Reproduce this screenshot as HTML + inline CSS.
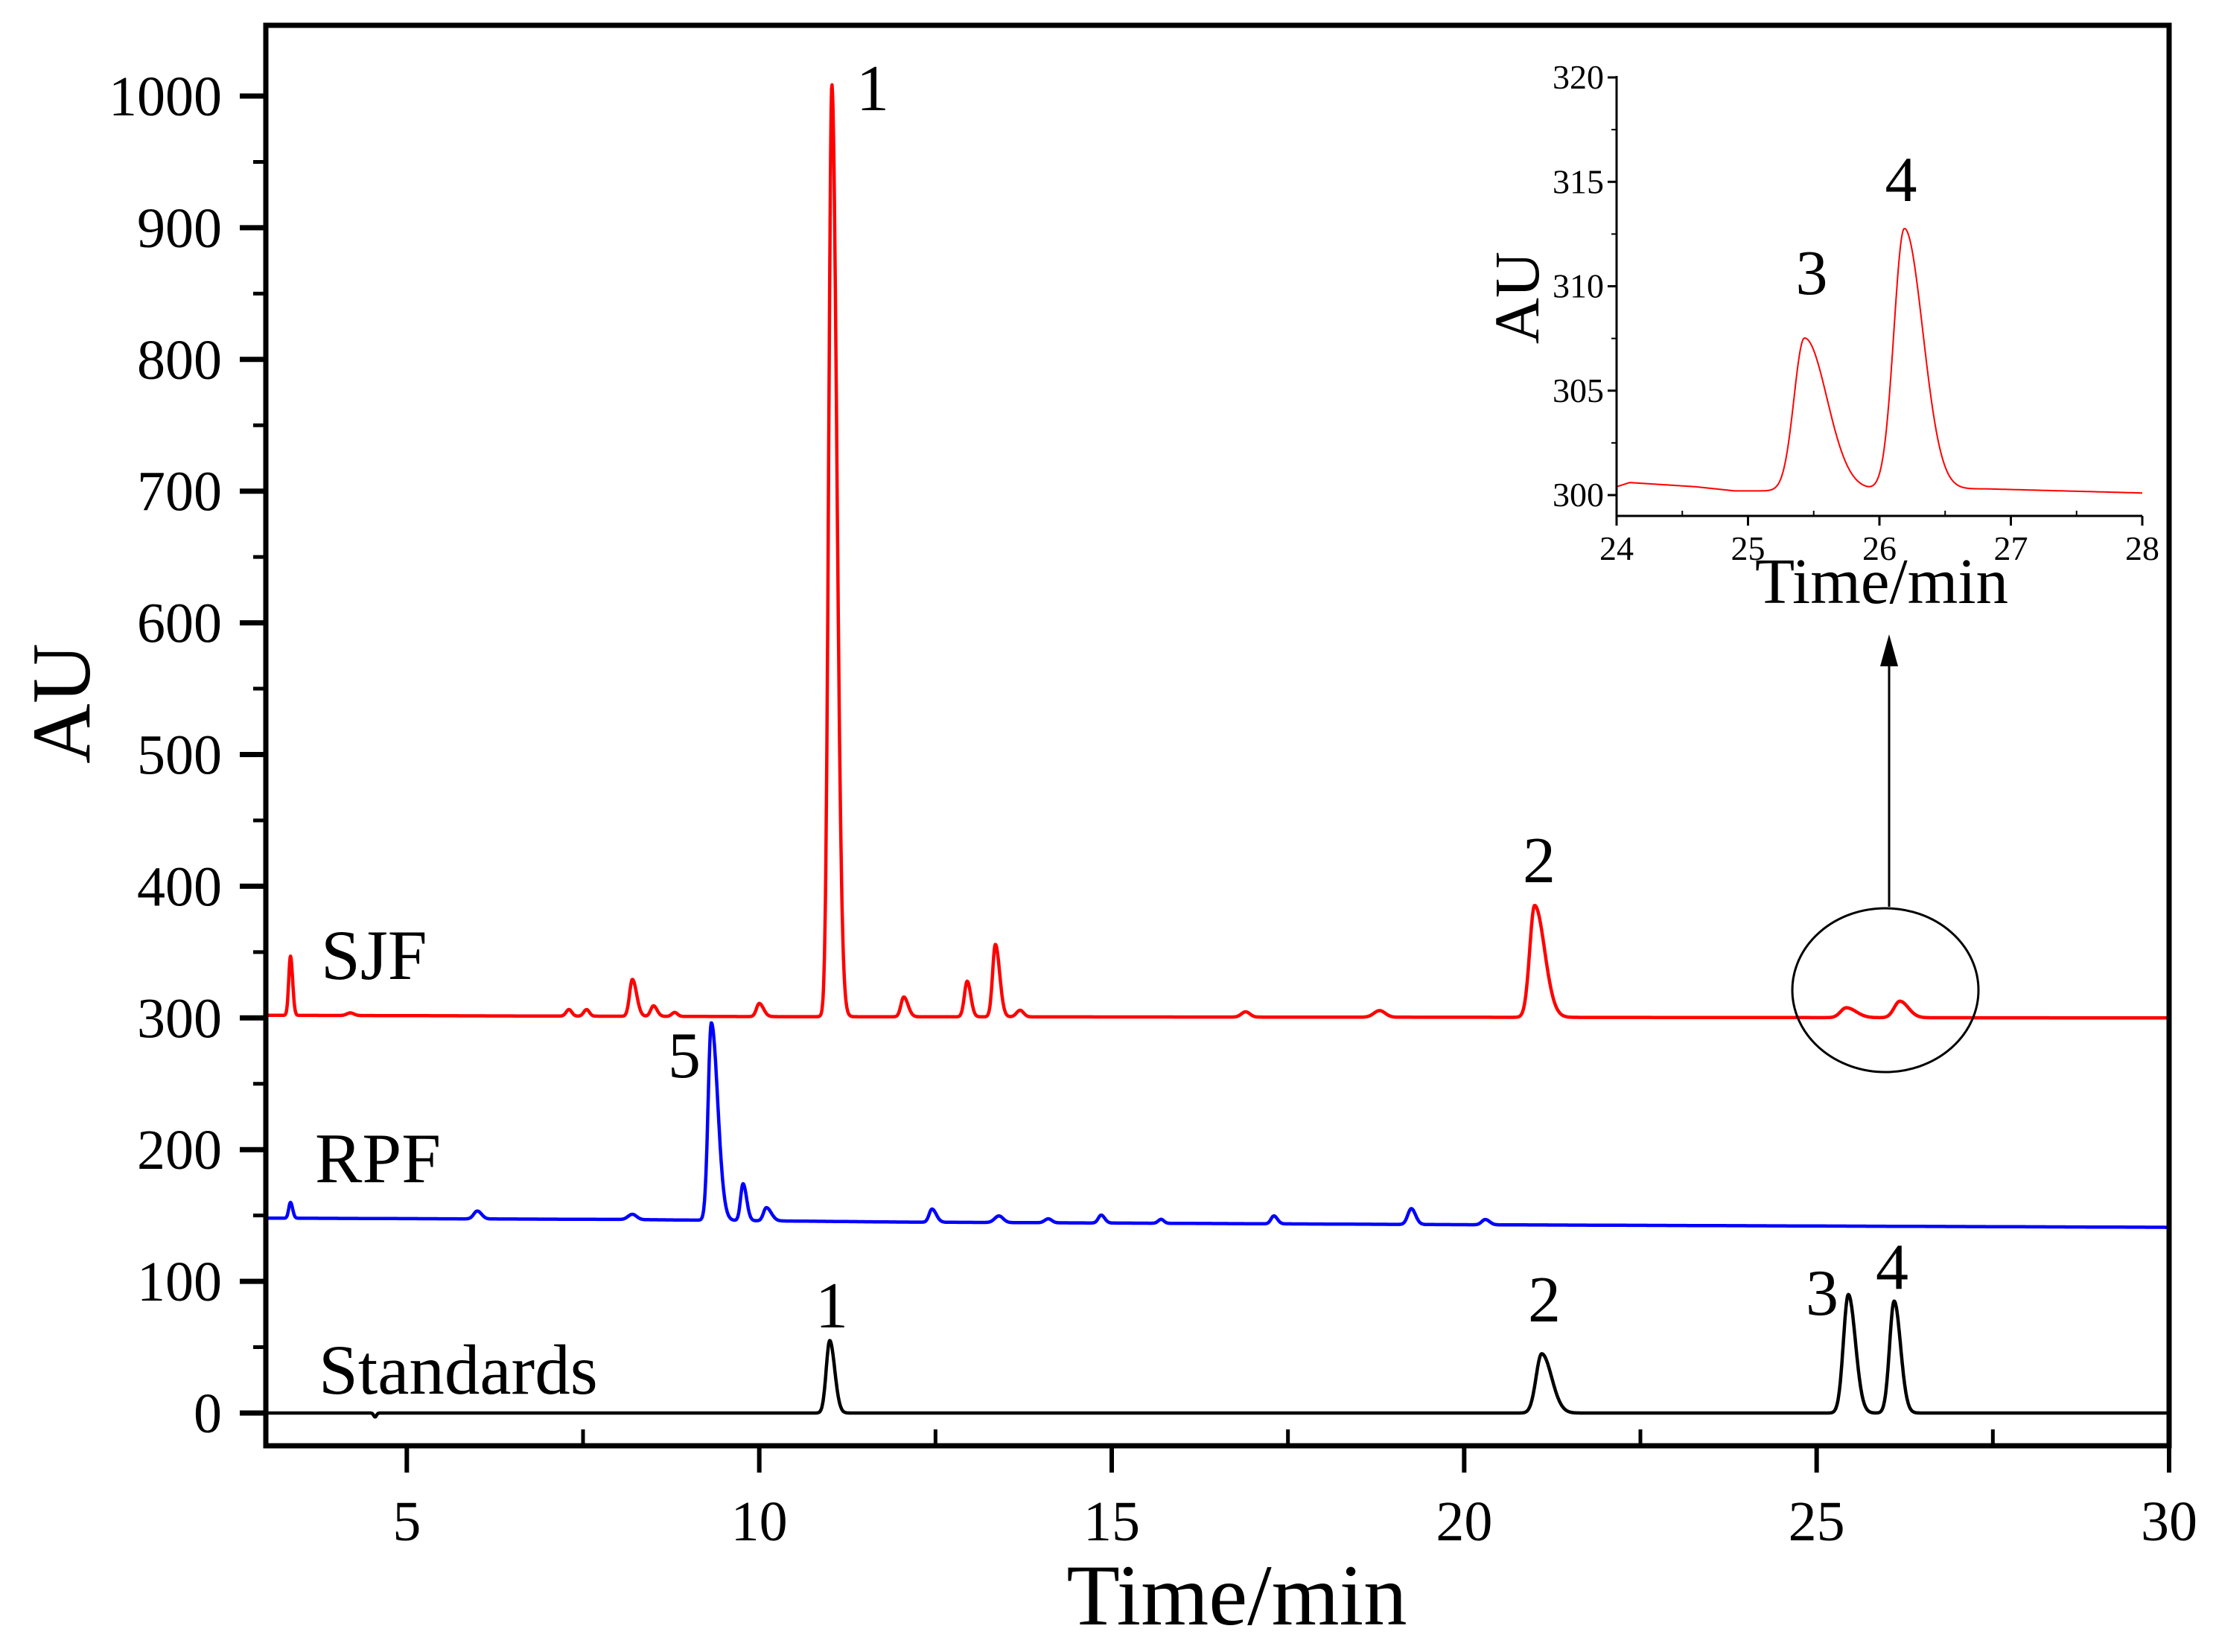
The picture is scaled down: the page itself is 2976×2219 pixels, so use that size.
<!DOCTYPE html>
<html><head><meta charset="utf-8">
<style>
html,body{margin:0;padding:0;background:#fff;}
svg{display:block;font-family:"Liberation Serif",serif;}
</style></head>
<body>
<svg id="chart" width="2976" height="2219" viewBox="0 0 2976 2219" xmlns="http://www.w3.org/2000/svg">
<rect width="2976" height="2219" fill="#fff"/>
<g id="main"></g>
<g id="inset"></g>
</svg>
<script>
// ---- main chart data: peaks [time, height, sigmaLeft, sigmaRight] ----
const xTicks = [5, 10, 15, 20, 25, 30];
const yTicks = [0, 100, 200, 300, 400, 500, 600, 700, 800, 900, 1000];
const sjfBaseline = [[3, 302], [10, 301], [20, 300.5], [30, 300]];
const sjfPeaks = [[3.35,45,0.025,0.03],[4.2,2,0.05,0.05],[7.3,5,0.04,0.04],[7.55,5,0.04,0.04],[8.2,28,0.04,0.06],[8.5,8,0.04,0.05],[8.8,3,0.04,0.04],[10.0,10,0.04,0.06],[11.03,708,0.045,0.07],[12.05,15,0.04,0.06],[12.95,27,0.04,0.05],[13.35,55,0.04,0.06],[13.7,5,0.05,0.05],[16.9,4,0.06,0.06],[18.8,5,0.08,0.08],[21.0,85,0.07,0.14],[25.42,7.5,0.08,0.14],[26.18,12.5,0.08,0.12]];
const rpfBaseline = [[3, 148], [8, 147], [12, 145], [20, 143], [30, 141]];
const rpfPeaks = [[3.35,12,0.025,0.03],[6.0,6,0.05,0.06],[8.2,4,0.06,0.06],[9.32,150,0.045,0.09],[9.77,28,0.035,0.05],[10.1,10,0.04,0.07],[12.45,10,0.04,0.06],[13.4,5,0.06,0.06],[14.1,3,0.05,0.05],[14.85,6,0.04,0.05],[15.7,3,0.04,0.04],[17.3,6,0.04,0.05],[19.25,12,0.05,0.06],[20.3,4,0.05,0.06]];
const stdBaseline = [[3, 0], [30, 0]];
const stdPeaks = [[4.55,-3,0.02,0.02],[11.0,55,0.05,0.07],[21.1,45,0.08,0.14],[25.45,90,0.07,0.1],[26.1,85,0.065,0.09]];
// ---- inset data ----
const insetXTicks = [24, 25, 26, 27, 28];
const insetYTicks = [300, 305, 310, 315, 320];
const insetBaseline = [[24, 300.4], [24.1, 300.6], [24.6, 300.4], [24.9, 300.2], [25.1, 300.2], [26.8, 300.3], [28, 300.1]];
const insetPeaks = [[25.43,7.3,0.08,0.17],[26.19,12.5,0.08,0.14]];

const NS = "http://www.w3.org/2000/svg";
function mk(parent, tag, attrs, text) {
  const e = document.createElementNS(NS, tag);
  for (const k in attrs) e.setAttribute(k, attrs[k]);
  if (text !== undefined) e.textContent = text;
  parent.appendChild(e);
  return e;
}
function baseAt(b, t) {
  if (t <= b[0][0]) return b[0][1];
  for (let i = 1; i < b.length; i++) if (t <= b[i][0]) {
    const f = (t - b[i-1][0]) / (b[i][0] - b[i-1][0]);
    return b[i-1][1] + f * (b[i][1] - b[i-1][1]);
  }
  return b[b.length-1][1];
}
function signal(base, peaks, t) {
  let v = baseAt(base, t);
  for (const p of peaks) { const s = t < p[0] ? p[2] : p[3]; v += p[1] * Math.exp(-0.5 * ((t - p[0]) / s) ** 2); }
  return v;
}
const X0 = 357, X1 = 2913, Y0 = 1898, Y1 = 129;
const sx = t => X0 + (t - 3) / 27 * (X1 - X0);
const sy = v => Y0 - v / 1000 * (Y0 - Y1);
const main = document.getElementById('main');

function trace(g, base, peaks, t0, t1, fx, fy, color, w, name) {
  let d = '';
  const n = 4000;
  for (let i = 0; i <= n; i++) { const t = t0 + (t1 - t0) * i / n; d += (i ? 'L' : 'M') + fx(t).toFixed(1) + ',' + fy(signal(base, peaks, t)).toFixed(1); }
  const p = mk(g, 'path', {d: d, fill: 'none', stroke: color, 'stroke-width': w, 'stroke-linejoin': 'round'});
  
  
}
trace(main, stdBaseline, stdPeaks, 3, 30, sx, sy, '#000', 4.5, 'standards-trace');
trace(main, rpfBaseline, rpfPeaks, 3, 30, sx, sy, '#0000ff', 4.5, 'rpf-trace');
trace(main, sjfBaseline, sjfPeaks, 3, 30, sx, sy, '#ff0000', 4.5, 'sjf-trace');

const fr = mk(main, 'rect', {x: X0, y: 34, width: X1 - X0, height: 1942 - 34, fill: 'none', stroke: '#000', 'stroke-width': 7});


for (const t of xTicks) {
  mk(main, 'line', {x1: sx(t), x2: sx(t), y1: 1942, y2: 1978, stroke: '#000', 'stroke-width': 6});
  const l = mk(main, 'text', {x: sx(t), y: 2069, 'font-size': 76, 'text-anchor': 'middle'}, String(t));
  
  
}
for (let t = 7.5; t < 30; t += 5) {
  mk(main, 'line', {x1: sx(t), x2: sx(t), y1: 1942, y2: 1920, stroke: '#000', 'stroke-width': 5});
}
for (const v of yTicks) {
  mk(main, 'line', {x1: 322, x2: X0, y1: sy(v), y2: sy(v), stroke: '#000', 'stroke-width': 7});
  const l = mk(main, 'text', {x: 298, y: sy(v) + 26, 'font-size': 76, 'text-anchor': 'end'}, String(v));
  
  
}
for (let v = 50; v < 1050; v += 100) {
  mk(main, 'line', {x1: 340, x2: X0, y1: sy(v), y2: sy(v), stroke: '#000', 'stroke-width': 5});
}
let e = mk(main, 'text', {x: 1661, y: 2182, 'font-size': 117, 'text-anchor': 'middle'}, 'Time/min');
 
e = mk(main, 'text', {x: 0, y: 0, 'font-size': 112, 'text-anchor': 'middle', transform: 'translate(120,945) rotate(-90)'}, 'AU');
 
const labels = [['SJF', 431, 1315, 'sjf-label'], ['RPF', 423, 1588, 'rpf-label'], ['Standards', 428, 1872, 'standards-label']];
for (const L of labels) {
  const t = mk(main, 'text', {x: L[1], y: L[2], 'font-size': 95}, L[0]);
   
}
const peakLabels = [['1', 1172, 148], ['2', 2067, 1185], ['5', 919, 1447], ['1', 1117, 1783], ['2', 2074, 1775], ['3', 2447, 1766], ['4', 2541, 1731]];
for (const P of peakLabels) {
  const t = mk(main, 'text', {x: P[1], y: P[2], 'font-size': 88, 'text-anchor': 'middle'}, P[0]);
   
}
e = mk(main, 'ellipse', {cx: 2532, cy: 1330, rx: 125, ry: 110, fill: 'none', stroke: '#000', 'stroke-width': 3});
 
e = mk(main, 'line', {x1: 2537, x2: 2537, y1: 1218, y2: 890, stroke: '#000', 'stroke-width': 3});
 
e = mk(main, 'polygon', {points: '2537,852 2525,895 2549,895', fill: '#000'});
 

// ---- inset ----
const ins = document.getElementById('inset');
const IX0 = 2171, IX1 = 2877, IYa = 665, IYb = 104, IYbot = 693;
const ix = t => IX0 + (t - 24) / 4 * (IX1 - IX0);
const iy = v => IYa - (v - 300) / 20 * (IYa - IYb);
trace(ins, insetBaseline, insetPeaks, 24, 28, ix, iy, '#ff0000', 2, 'inset-trace');
mk(ins, 'line', {x1: IX0, x2: IX0, y1: IYb - 2, y2: IYbot, stroke: '#000', 'stroke-width': 3});
mk(ins, 'line', {x1: IX0, x2: IX1, y1: IYbot, y2: IYbot, stroke: '#000', 'stroke-width': 3});
for (const t of insetXTicks) {
  mk(ins, 'line', {x1: ix(t), x2: ix(t), y1: IYbot, y2: IYbot + 13, stroke: '#000', 'stroke-width': 3});
  const l = mk(ins, 'text', {x: ix(t), y: 752, 'font-size': 46, 'text-anchor': 'middle'}, String(t));
   
}
for (let t = 24.5; t < 28; t += 1) mk(ins, 'line', {x1: ix(t), x2: ix(t), y1: IYbot, y2: IYbot - 7, stroke: '#000', 'stroke-width': 2});
for (const v of insetYTicks) {
  mk(ins, 'line', {x1: IX0 - 12, x2: IX0, y1: iy(v), y2: iy(v), stroke: '#000', 'stroke-width': 3});
  const l = mk(ins, 'text', {x: IX0 - 17, y: iy(v) + 15, 'font-size': 46, 'text-anchor': 'end'}, String(v));
   
}
for (let v = 302.5; v < 320; v += 5) mk(ins, 'line', {x1: IX0 - 7, x2: IX0, y1: iy(v), y2: iy(v), stroke: '#000', 'stroke-width': 2});
e = mk(ins, 'text', {x: 2527, y: 810, 'font-size': 87, 'text-anchor': 'middle'}, 'Time/min');
 
e = mk(ins, 'text', {x: 0, y: 0, 'font-size': 86, 'text-anchor': 'middle', transform: 'translate(2066,400) rotate(-90)'}, 'AU');
 
e = mk(ins, 'text', {x: 2433, y: 395, 'font-size': 86, 'text-anchor': 'middle'}, '3');
 
e = mk(ins, 'text', {x: 2553, y: 270, 'font-size': 86, 'text-anchor': 'middle'}, '4');
 
</script>
</body></html>
